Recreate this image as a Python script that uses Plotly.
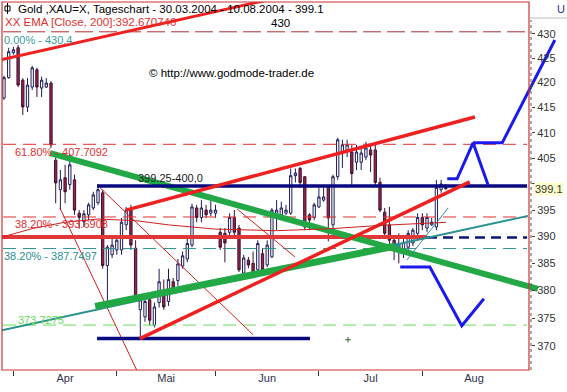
import numpy as np
import pandas as pd
import plotly.graph_objects as go

# ---------------- data ----------------
dates = pd.bdate_range("2004-03-30", periods=95)
opens = [416.9,421.0,426.1,427.1,420.5,415.1,419.1,422.6,418.9,419.1,
         419.9,404.6,398.9,401.2,399.9,400.8,394.4,392.8,394.1,395.4,
         396.4,398.3,384.6,386.6,387.5,387.5,392.2,395.0,387.8,376.5,
         375.2,378.3,373.7,377.8,379.6,378.0,381.6,381.8,384.5,385.8,
         388.4,395.4,393.6,395.0,394.4,394.4,390.8,390.6,390.8,393.6,
         391.6,383.2,385.6,385.0,383.8,386.8,384.7,386.2,394.4,394.1,
         394.4,394.4,401.6,403.0,401.4,394.1,393.6,395.6,396.9,399.3,
         392.2,401.4,406.2,406.6,406.2,404.2,404.2,405.2,406.6,406.6,
         400.3,394.6,392.2,389.3,388.7,387.5,388.0,388.8,390.6,393.6,
         391.6,392.2,391.8,398.9,399.3]
highs = [421.4,427.1,427.3,427.7,420.9,420.9,423.4,423.0,421.2,420.9,
         420.3,405.2,402.7,403.7,405.8,401.8,395.0,395.0,396.4,398.5,
         400.0,398.9,388.4,389.7,390.1,393.5,395.6,396.0,389.3,379.1,
         378.6,379.1,377.8,384.0,382.0,384.0,382.3,385.8,387.2,389.7,
         396.2,396.0,396.9,396.0,397.9,396.0,391.6,391.6,394.4,395.0,
         392.2,386.6,386.2,387.2,389.3,387.8,389.3,395.4,396.9,396.6,
         396.0,403.0,403.0,403.3,401.4,394.4,396.4,399.3,399.3,399.6,
         401.8,409.0,408.6,408.6,407.6,407.6,407.0,408.2,407.6,407.6,
         401.2,395.4,395.6,390.1,390.6,390.1,391.2,391.6,394.4,394.4,
         394.4,393.5,400.8,400.8,400.0]
lows = [416.5,420.8,425.7,419.1,413.5,414.1,418.5,417.1,417.1,418.9,
        407.0,396.3,395.0,396.3,398.9,394.1,391.5,391.8,393.1,395.0,
        396.0,384.0,377.9,386.0,386.6,386.6,391.2,387.5,378.3,371.3,
        374.3,373.7,373.3,376.9,376.5,377.2,379.4,380.8,384.0,385.2,
        388.0,392.7,392.7,393.5,393.8,393.5,387.5,385.2,390.3,390.1,
        383.4,382.8,384.1,382.8,383.2,383.4,384.3,386.0,391.2,393.6,
        394.1,394.1,400.3,399.3,391.2,391.2,393.1,395.4,396.6,389.1,
        391.6,400.8,403.1,405.2,399.8,402.7,402.7,404.6,402.3,399.8,
        394.6,390.1,388.4,385.6,385.0,386.0,387.5,388.2,390.1,391.2,
        390.8,392.0,391.2,398.3,398.9]
closes = [421.0,426.3,426.7,419.5,415.1,419.5,423.0,419.1,420.5,419.9,
          407.6,400.2,400.8,398.5,403.7,395.0,393.6,394.3,396.0,397.9,
          398.9,384.6,388.0,388.4,389.3,392.7,395.0,388.4,378.8,378.3,
          378.0,374.6,377.0,381.6,377.0,382.0,380.1,384.9,386.4,388.7,
          395.6,393.6,395.4,394.1,395.0,395.0,388.0,388.8,393.6,390.8,
          383.8,386.0,384.7,383.2,388.7,383.8,388.4,395.0,395.0,395.4,
          395.0,401.6,402.1,400.3,391.8,393.1,396.0,397.5,397.5,393.5,
          401.4,408.6,407.6,407.6,402.0,406.2,406.0,407.0,405.6,400.3,
          395.0,390.6,389.3,388.4,387.5,388.9,390.6,391.2,393.6,392.2,
          393.6,392.7,399.3,400.0,399.1]

month_labels = ["Apr", "Mai", "Jun", "Jul", "Aug"]
y_ticks = [370, 375, 380, 385, 390, 395, 400, 405, 410, 415, 420, 425, 430]
last_price = 399.1

# EMA(200) curve samples (trading-day index, price)
ema_x = [-0.4, 6, 13, 20, 28, 35, 45, 58, 70, 80, 94]
ema_y = [389.9, 391.5, 392.7, 393.3, 393.0, 392.2, 391.4, 391.1, 391.5, 392.1, 392.67]

# Fibonacci levels
fib_levels = [430.4, 407.7092, 393.6908, 387.7497, 373.7275]
fib_labels = ["0.00% - 430.4", "61.80% - 407.7092", "38.20% - 393.6908",
              "38.20% - 387.7497", "373.7275"]
fib_x = [-0.2, 111.3]

# trend lines: (x index pair, price pair)
red_top_x, red_top_y = [-0.43, 60.85], [424.7, 438.1]
red_mid_x, red_mid_y = [25.96, 100.2], [395.0, 413.1]
red_low_x, red_low_y = [28.9, 99.1], [371.3, 400.4]
green_dn_x, green_dn_y = [9.8, 113.6], [406.0, 380.3]
teal_up_x, teal_up_y = [-0.43, 111.5], [372.8, 393.9]
teal_thick_x, teal_thick_y = [56.0, 84.3], [383.4, 388.4]
green_up_x, green_up_y = [19.4, 83.2], [377.1, 388.2]
navy_top_x, navy_top_y = [19.8, 111.3], [399.6, 399.6]
navy_low_x, navy_low_y = [19.8, 65.1], [371.3, 371.3]
red390_x, red390_y = [-0.43, 90.0], [389.9, 389.9]
navy390_x, navy390_y = [90.0, 111.3], [389.8, 389.8]
thin_a_x, thin_a_y = [11.9, 28.3], [395.4, 365.6]
thin_b_x, thin_b_y = [20.4, 53.0], [399.3, 372.0]
thin_c_x, thin_c_y = [49.6, 61.9], [395.2, 386.2]
teal_thin_x, teal_thin_y = [85.7, 94.5], [385.6, 395.4]
blue_up1_x, blue_up1_y = [94.3, 96.4, 99.8, 103.0], [401.0, 401.0, 408.0, 399.8]
blue_up2_x, blue_up2_y = [99.8, 106.0, 117.2], [408.0, 408.0, 428.7]
blue_lo_x, blue_lo_y = [84.3, 90.6, 97.4, 102.1], [384.3, 384.3, 373.6, 378.5]
mark_x, mark_y = [73.2], [371.1]

# ---------------- geometry ----------------
W, H = 567, 392
ML, MR, MT, MB = 2, 0, 2, 22
PW, PH = W - ML - MR, H - MT - MB

def pxx(x):
    return (x - ML) / PW

def pyy(y):
    return (H - MB - y) / PH

x_range = [(2 - 4) / 4.7, (567 - 4) / 4.7]
y_range = [np.log10(365.73), np.log10(436.62)]

xi = np.arange(len(dates))
axis_days = pd.bdate_range("2004-03-30", "2004-09-10")
month_start = [i for i in range(1, len(axis_days)) if axis_days[i].month != axis_days[i - 1].month]
tick_pos = month_start[:5]
label_pos = [(month_start[k] + month_start[k + 1]) / 2 for k in range(5)]

FONT = "Liberation Sans, Arial, sans-serif"

fig = go.Figure()

def line(x, y, color, width, dash=None, xaxis="x"):
    fig.add_trace(go.Scatter(x=x, y=y, mode="lines", xaxis=xaxis,
                             line=dict(color=color, width=width, dash=dash),
                             hoverinfo="skip", showlegend=False))

# fib lines
fib_colors = ["#b03030", "#e03030", "#e03030", "#2a9090", "#66dd55"]
fib_dash = ["18px,6px", "13px,7px", "13px,7px", "13px,7px", "13px,7px"]
for lv, c, d in zip(fib_levels, fib_colors, fib_dash):
    line(fib_x, [lv, lv], c, 1, d)

# EMA on secondary x axis (same range)
line(ema_x, ema_y, "#cc2020", 1, xaxis="x2")

# thin red diagonals
for xs, ys in [(thin_a_x, thin_a_y), (thin_b_x, thin_b_y), (thin_c_x, thin_c_y)]:
    line(xs, ys, "#d02020", 1)

fig.add_trace(go.Candlestick(
    x=xi, open=opens, high=highs, low=lows, close=closes,
    increasing=dict(line=dict(color="#1c1c5c", width=1), fillcolor="#ffffff"),
    decreasing=dict(line=dict(color="#3a1030", width=1), fillcolor="#9c2548"),
    whiskerwidth=0, hoverinfo="skip", showlegend=False))

line(red390_x, red390_y, "#e03838", 4)
line(navy390_x, navy390_y, "#0a1a70", 2.5, "10px,6px")
line(teal_up_x, teal_up_y, "#2a9090", 2)
line(teal_thick_x, teal_thick_y, "#2a9090", 4)
line(green_up_x, green_up_y, "#22a845", 7)
line(green_dn_x, green_dn_y, "#22a845", 6)
line(navy_top_x, navy_top_y, "#0a0a80", 3.5)
line(navy_low_x, navy_low_y, "#0a0a80", 3.5)
line(red_top_x, red_top_y, "#ee2020", 3)
line(red_mid_x, red_mid_y, "#ee2020", 3.5)
line(red_low_x, red_low_y, "#ee2020", 3.5)
line(teal_thin_x, teal_thin_y, "#2a8aa0", 1)
line(blue_up1_x, blue_up1_y, "#1a1aee", 3)
line(blue_up2_x, blue_up2_y, "#1a1aee", 3)
line(blue_lo_x, blue_lo_y, "#1a1aee", 3)
fig.add_trace(go.Scatter(x=mark_x, y=mark_y, mode="markers",
                         marker=dict(symbol="cross-thin", size=4, line=dict(color="#336633", width=1)),
                         hoverinfo="skip", showlegend=False))

ann = []
def text(t, x, y, color, size=11, anchor="left", bg=None):
    ann.append(dict(text=t, x=pxx(x), y=pyy(y), xref="paper", yref="paper",
                    xanchor=anchor, yanchor="middle", showarrow=False,
                    font=dict(family=FONT, size=size, color=color),
                    bgcolor=bg, borderpad=0))

text("Gold ,XAU=X, Tageschart - 30.03.2004 - 10.08.2004 - 399.1", 17, 9, "#000000", 11.5)
text("XX EMA [Close, 200]:392.670746", 4, 22, "#e03030", 11.5)
text("430", 270, 23, "#000000", 11.5)
text("© http://www.godmode-trader.de", 148, 73, "#000000", 11.5)
fib_lab_x = [3, 14, 14, 3, 17]
fib_lab_y = [40, 152, 224, 256, 320]
fib_lab_c = ["#3a9c9c", "#e03030", "#e03030", "#2a9090", "#66dd55"]
for t, x, y, c in zip(fib_labels, fib_lab_x, fib_lab_y, fib_lab_c):
    text(t, x, y, c, 11)
text("399.25-400,0", 137, 178, "#202020", 11)
text("U", 556, 9, "#203080", 11)
ann.append(dict(text=f"{last_price}", x=pxx(534), y=np.log10(last_price), xref="paper", yref="y",
                xanchor="left", yanchor="middle", showarrow=False,
                font=dict(family=FONT, size=11, color="#333333"), bgcolor="#ffffcc", borderpad=0))

shapes = [
    dict(type="rect", xref="paper", yref="paper", x0=0, x1=pxx(529), y0=0, y1=1,
         line=dict(color="#cc3333", width=1.2)),
    dict(type="line", xref="paper", yref="paper", x0=pxx(531), x1=pxx(531), y0=pyy(370), y1=pyy(20),
         line=dict(color="#555555", width=1, dash="dot")),
    dict(type="line", xref="paper", yref="paper", x0=pxx(530), x1=pxx(567), y0=pyy(18), y1=pyy(18),
         line=dict(color="#bbbbbb", width=1)),
    # title icon
    dict(type="rect", xref="paper", yref="paper", x0=pxx(5), x1=pxx(10), y0=pyy(11), y1=pyy(6),
         line=dict(color="#000000", width=1)),
    dict(type="line", xref="paper", yref="paper", x0=pxx(7.5), x1=pxx(7.5), y0=pyy(14), y1=pyy(3),
         line=dict(color="#000000", width=1)),
]

fig.update_layout(
    width=W, height=H, margin=dict(l=ML, r=MR, t=MT, b=MB, pad=0),
    paper_bgcolor="white", plot_bgcolor="white",
    showlegend=False, annotations=ann, shapes=shapes,
    xaxis=dict(range=x_range, showgrid=False, zeroline=False, showline=False,
               tickvals=tick_pos, ticktext=[""] * len(tick_pos), ticks="outside",
               ticklen=5, tickcolor="#333333", tickwidth=1,
               rangeslider=dict(visible=False), fixedrange=True),
    xaxis2=dict(range=x_range, overlaying="x", anchor="y", side="bottom",
                showgrid=False, zeroline=False, showline=False,
                tickvals=label_pos, ticktext=month_labels, ticks="",
                tickfont=dict(family=FONT, size=11, color="#30304a")),
    yaxis=dict(type="log", range=y_range, showgrid=False, zeroline=False, showline=False,
               side="right", anchor="free", position=pxx(531),
               tickvals=y_ticks, ticktext=["" if v == 400 else str(v) for v in y_ticks],
               ticks="outside", ticklen=3, tickcolor="#444444",
               tickfont=dict(family=FONT, size=11, color="#333333"), automargin=False),
)

fig.write_html("out.html")
